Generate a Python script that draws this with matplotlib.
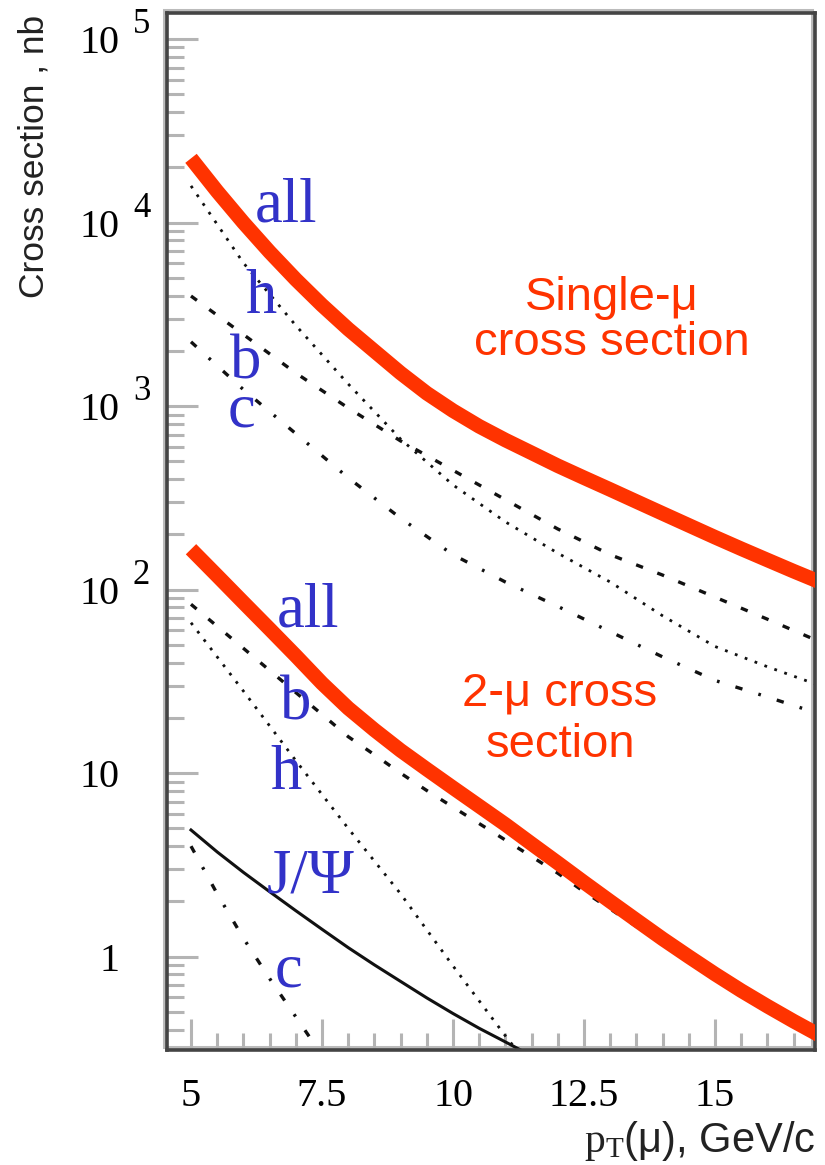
import matplotlib
matplotlib.use("Agg")
import matplotlib.pyplot as plt
import matplotlib.transforms as mtrans
from matplotlib.patches import Rectangle
from matplotlib.ticker import FixedLocator, FixedFormatter, MultipleLocator, LogLocator, NullFormatter

plt.rcParams['mathtext.fontset'] = 'custom'
plt.rcParams['mathtext.rm'] = 'Liberation Serif'

# transverse momentum of the muon, GeV/c
pt = [5, 6, 7, 8, 9, 10, 11, 12, 13, 14, 15, 16, 17]
pt_fine = [5, 5.5, 6, 6.5, 7, 7.5, 8, 8.5, 9, 9.5, 10, 10.5, 11, 11.5, 12,
           12.5, 13, 13.5, 14, 14.5, 15, 15.5, 16, 16.5, 17]

# single-muon cross sections, nb
single_all = [22390, 14790, 10000, 6920, 4900, 3550, 2630, 1995, 1514, 1175, 944, 776, 653,
              556, 473, 407, 351, 302, 260, 224, 193, 167, 145, 126, 110]
single_h = [15850, 6030, 2750, 1320, 661, 372, 234, 158, 110, 72, 49, 38, 30]
single_b = [3980, 2455, 1514, 977, 646, 447, 309, 214, 155, 120, 91, 69, 52]
single_c = [2240, 1230, 708, 407, 245, 155, 110, 81, 59, 43, 32, 26, 21]

# di-muon cross sections, nb
dimu_all = [166, 119, 85.1, 61.0, 43.6, 30.9, 22.6, 17.2, 13.3, 10.5, 8.32, 6.61, 5.25,
            4.12, 3.24, 2.54, 2.00, 1.58, 1.25, 1.00, 0.804, 0.653, 0.537, 0.445, 0.372]
dimu_b = [83.2, 63.1, 47.9, 36.3, 27.5, 20.9, 15.8, 12.6, 10.0, 8.04, 6.53, 5.31, 4.32,
          3.51, 2.85, 2.26, 1.82, 1.46, 1.175, 0.955, 0.776, 0.638, 0.525, 0.431, 0.355]
pt_low = [5, 6, 7, 8, 9, 10, 11, 12]
dimu_h = [66, 28, 11.7, 5.0, 2.2, 0.89, 0.37, 0.16]
pt_jpsi = [5, 5.5, 6, 6.5, 7, 7.5, 8, 8.5, 9, 9.5, 10, 10.5, 11, 11.5, 12]
dimu_jpsi = [4.90, 3.72, 2.88, 2.26, 1.78, 1.41, 1.12, 0.902, 0.733, 0.596, 0.490, 0.407,
             0.343, 0.288, 0.245]
pt_c = [5, 5.5, 6, 6.5, 7, 7.5]
dimu_c = [4.0, 2.2, 1.26, 0.76, 0.47, 0.29]

# axis ticks
x_ticks = [5, 7.5, 10, 12.5, 15]
x_tick_labels = ['5', '7.5', '10', '12.5', '15']
y_ticks = [1, 10, 100, 1000, 10000, 100000]
y_tick_labels = ['1', '10', '10', '10', '10', '10']
y_exponents = ['', '', '2', '3', '4', '5']

RED = '#ff3300'
BLUE = '#3232c8'
INK = '#111111'
SERIF = 'Liberation Serif'
SANS = 'Liberation Sans'

fig = plt.figure(figsize=(8.25, 11.65), dpi=100)
ax = fig.add_axes([167 / 825, 1 - 1050 / 1165, (815 - 167) / 825, (1050 - 13) / 1165])
ax.set_yscale('log')
ax.set_xlim(4.542, 16.908)
ax.set_ylim(0.31, 1.387e5)

dot = dict(color=INK, lw=2.0, dashes=(1.0, 2.8))
dash = dict(color=INK, lw=2.4, dashes=(2.2, 4.6))
dashdot = dict(color=INK, lw=2.4, dashes=(2.2, 5.0, 0.8, 5.0))

ax.plot(pt, single_h, **dot)
ax.plot(pt, single_b, **dash)
ax.plot(pt, single_c, **dashdot)
ax.plot(pt_low, dimu_h, **dot)
ax.plot(pt_fine, dimu_b, **dash)
ax.plot(pt_c, dimu_c, **dashdot)
ax.plot(pt_jpsi, dimu_jpsi, color=INK, lw=2.2)
ax.plot(pt_fine, single_all, color=RED, lw=10.5, solid_capstyle='butt', zorder=4)
ax.plot(pt_fine, dimu_all, color=RED, lw=10.5, solid_capstyle='butt', zorder=4)

# ticks
ax.xaxis.set_major_locator(FixedLocator(x_ticks))
ax.xaxis.set_major_formatter(FixedFormatter(x_tick_labels))
ax.xaxis.set_minor_locator(MultipleLocator(0.5))
ax.yaxis.set_major_locator(FixedLocator(y_ticks))
ax.yaxis.set_major_formatter(FixedFormatter(y_tick_labels))
ax.yaxis.set_minor_locator(LogLocator(base=10, subs=[2, 3, 4, 5, 6, 7, 8, 9], numticks=20))
ax.yaxis.set_minor_formatter(NullFormatter())
ax.tick_params(which='both', direction='in', color='#b4b4b4', width=2.2,
               top=False, right=False)
ax.tick_params(which='major', length=22)
ax.tick_params(which='minor', length=12)
ax.tick_params(axis='y', which='major', pad=34)
ax.tick_params(axis='x', which='major', pad=20)
for lab in ax.get_xticklabels() + ax.get_yticklabels():
    lab.set_fontfamily(SERIF)
    lab.set_fontsize(29)

# decade exponents beside the "10" labels
exp_tr = mtrans.blended_transform_factory(ax.transAxes, ax.transData) + \
    mtrans.ScaledTranslation(-34 / 100, 6 / 100, fig.dpi_scale_trans)
for yv, ex in zip(y_ticks, y_exponents):
    if ex:
        ax.text(0, yv, ex, transform=exp_tr, ha='left', va='baseline',
                fontfamily=SERIF, fontsize=25, clip_on=False)

# frame: dark border with a light grey shadow
for sp in ax.spines.values():
    sp.set_color('#444444')
    sp.set_linewidth(2.6)
shadow = Rectangle((0, 0), 1, 1, fill=False, edgecolor='#bbbbbb', lw=2.2,
                   clip_on=False, zorder=0.5,
                   transform=ax.transAxes + mtrans.ScaledTranslation(-3 / 100, 3 / 100, fig.dpi_scale_trans))
ax.add_patch(shadow)

# component labels
blue = dict(color=BLUE, fontfamily=SERIF, fontsize=45, ha='left', va='baseline', zorder=5)
ax.text(6.22, 10100, 'all', **blue)
ax.text(6.03, 3220, 'h', **blue)
ax.text(5.74, 1422, 'b', **blue)
ax.text(5.69, 778, 'c', **blue)
ax.text(6.64, 62.8, 'all', **blue)
ax.text(6.70, 19.7, 'b', **blue)
ax.text(6.51, 8.18, 'h', **blue)
ax.text(6.45, 2.24, 'J/Ψ', **blue)
ax.text(6.60, 0.686, 'c', **blue)

red = dict(color=RED, fontfamily=SANS, fontsize=34, ha='center', va='baseline', zorder=5)
ax.text(13.03, 3350, 'Single-μ', **red)
ax.text(13.03, 1900, 'cross section', **red)
ax.text(12.04, 23.5, '2-μ cross', **red)
ax.text(12.06, 12.2, 'section', **red)

# axis titles
fig.text(34 / 825, 1 - 15 / 1165, 'Cross section , nb', rotation=90, ha='center', va='top',
         fontfamily=SANS, fontsize=25.5, color='#222222')
fig.text(815 / 825, 1 - 1152 / 1165, r'$\mathrm{p_T}$(μ), GeV/c', ha='right', va='baseline',
         fontfamily=SANS, fontsize=30, color='#222222')

fig.savefig('out.png', dpi=100)
